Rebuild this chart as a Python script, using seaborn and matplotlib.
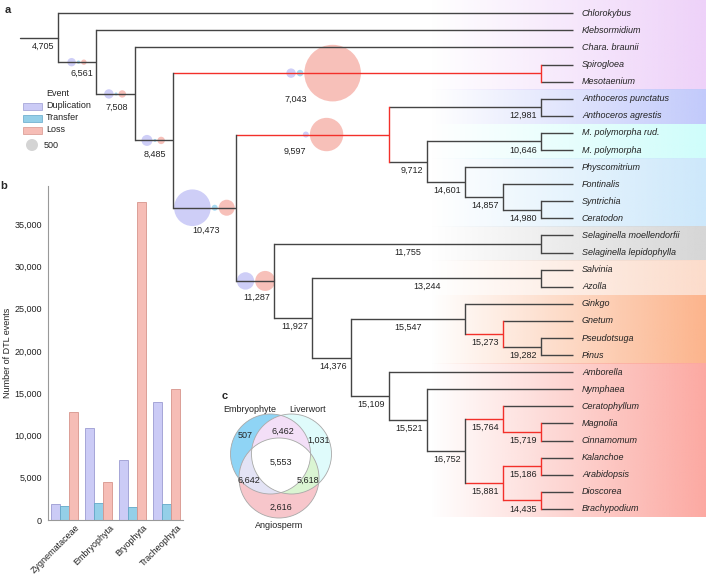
import numpy as np
import pandas as pd
import matplotlib
matplotlib.use("Agg")
import matplotlib.pyplot as plt
import matplotlib.transforms as mtransforms
from matplotlib.colors import to_rgb
from matplotlib.patches import Circle, Rectangle, Polygon
from matplotlib.ticker import FuncFormatter
import seaborn as sns

sns.set_theme(style="white")
plt.rcParams['font.family'] = ['Liberation Sans', 'DejaVu Sans']

# ------------------------------------------------------------------ data
# panel b
groups = ["Zygnemataceae", "Embryophyta", "Bryophyta", "Tracheophyta"]
events = ["Duplication", "Transfer", "Loss"]
duplication = [1900, 10900, 7100, 14000]
transfer = [1650, 2000, 1550, 1900]
loss = [12750, 4500, 37600, 15550]

# panel c
venn_sets = ["Embryophyte", "Liverwort", "Angiosperm"]
venn_regions = ["100", "110", "010", "111", "101", "011", "001"]
venn_values = ["507", "6,462", "1,031", "5,553", "6,642", "5,618", "2,616"]

# panel a : topology (node label = number of gene families)
taxa = ["Chlorokybus", "Klebsormidium", "Chara. braunii", "Spirogloea", "Mesotaenium",
        "Anthoceros punctatus", "Anthoceros agrestis", "M. polymorpha rud.", "M. polymorpha",
        "Physcomitrium", "Fontinalis", "Syntrichia", "Ceratodon",
        "Selaginella moellendorfii", "Selaginella lepidophylla", "Salvinia", "Azolla",
        "Ginkgo", "Gnetum", "Pseudotsuga", "Pinus", "Amborella", "Nymphaea",
        "Ceratophyllum", "Magnolia", "Cinnamomum", "Kalanchoe", "Arabidopsis",
        "Dioscorea", "Brachypodium"]

tree = ("4,705", ["Chlorokybus",
  ("6,561", ["Klebsormidium",
    ("7,508", ["Chara. braunii",
      ("8,485", [
        ("7,043", ["Spirogloea", "Mesotaenium"]),
        ("10,473", [
          ("9,597", [
            ("12,981", ["Anthoceros punctatus", "Anthoceros agrestis"]),
            ("9,712", [
              ("10,646", ["M. polymorpha rud.", "M. polymorpha"]),
              ("14,601", ["Physcomitrium",
                ("14,857", ["Fontinalis", ("14,980", ["Syntrichia", "Ceratodon"])])])])]),
          ("11,287", [
            ("11,755", ["Selaginella moellendorfii", "Selaginella lepidophylla"]),
            ("11,927", [
              ("13,244", ["Salvinia", "Azolla"]),
              ("14,376", [
                ("15,547", ["Ginkgo", ("15,273", ["Gnetum", ("19,282", ["Pseudotsuga", "Pinus"])])]),
                ("15,109", ["Amborella",
                  ("15,521", ["Nymphaea",
                    ("16,752", [
                      ("15,764", ["Ceratophyllum", ("15,719", ["Magnolia", "Cinnamomum"])]),
                      ("15,881", [("15,186", ["Kalanchoe", "Arabidopsis"]),
                                  ("14,435", ["Dioscorea", "Brachypodium"])])])])])])])])])])])])])

red_nodes = ["7,043", "9,597", "15,273", "15,764", "15,719", "15,881", "15,186", "14,435"]

bubble_nodes = ["6,561", "7,508", "8,485", "7,043", "9,597", "10,473", "11,287"]
bubble_dup = [245, 306, 420, 306, 125, 4650, 1050]
bubble_transfer = [40, 31, 31, 150, 0, 125, 0]
bubble_loss = [100, 190, 190, 11130, 3870, 890, 1390]

clade_first = ["Chlorokybus", "Anthoceros punctatus", "M. polymorpha rud.", "Physcomitrium",
               "Selaginella moellendorfii", "Salvinia", "Ginkgo", "Amborella"]
clade_last = ["Mesotaenium", "Anthoceros agrestis", "M. polymorpha", "Ceratodon",
              "Selaginella lepidophylla", "Azolla", "Pinus", "Brachypodium"]

# ------------------------------------------------------------------ styles / layout
clade_colors = ['#eed2f9', '#c2cafb', '#cffdfb', '#cde8fb', '#d6d6d6', '#fcdccb', '#fcb48c', '#fca9a2']
ev_colors = {"Duplication": "#cbcbf6", "Transfer": "#94cfe8", "Loss": "#f6bdb6"}
ev_edges = {"Duplication": "#9c9cd2", "Transfer": "#62a8c8", "Loss": "#d7958c"}
bub_colors = ["#c9c9f7", "#9ed6f1", "#f7b9b2"]
LINE = "#444444"
RED = "#f3302a"
FS = 6.5

W, H = 706, 575
ROW0, ROW = 13.3, 17.09
TIP_X, CHERRY_X, COL, STRETCH = 573, 541, 38.1, 25.5
LEG_R, LEG_N = 6.0, 500

fig = plt.figure(figsize=(W / 100, H / 100), dpi=100)
ax = fig.add_axes([0, 0, 1, 1])
ax.set_xlim(0, W)
ax.set_ylim(H, 0)
ax.axis('off')

# ---- layout of the tree
nodes = {}


def layout(n, parent=None):
    if isinstance(n, str):
        y = ROW0 + ROW * taxa.index(n)
        nodes[n] = dict(x=TIP_X, y=y, parent=parent, children=[], h=0, leaf=True)
        return
    label, ch = n
    for c in ch:
        layout(c, label)
    names = [c if isinstance(c, str) else c[0] for c in ch]
    h = 1 + max(nodes[c]['h'] for c in names)
    x = CHERRY_X - COL * (h - 1) - (STRETCH if h >= 10 else 0)
    y = np.mean([nodes[c]['y'] for c in names])
    nodes[label] = dict(x=x, y=y, parent=parent, children=names, h=h, leaf=False)


layout(tree)
root = tree[0]

# ---- background gradient bands
grad = np.linspace(0, 1, 256)
for first, last, col in zip(clade_first, clade_last, clade_colors):
    i0, i1 = taxa.index(first), taxa.index(last)
    y0 = 0 if i0 == 0 else ROW0 + ROW * (i0 - 0.5)
    y1 = ROW0 + ROW * (i1 + 0.5)
    rgba = np.zeros((1, 256, 4))
    rgba[..., :3] = to_rgb(col)
    rgba[..., 3] = grad
    ax.imshow(rgba, extent=[430, W, y1, y0], aspect='auto', zorder=0, interpolation='bilinear')

# ---- branches
for name, nd in nodes.items():
    col = RED if name in red_nodes else LINE
    if nd['parent'] is not None:
        px = nodes[nd['parent']]['x']
        ax.plot([px, nd['x']], [nd['y'], nd['y']], color=LINE if nd['leaf'] else col, lw=1.0, zorder=3,
                solid_capstyle='butt')
    else:
        ax.plot([nd['x'] - COL, nd['x']], [nd['y'], nd['y']], color=LINE, lw=1.0, zorder=3)
    if not nd['leaf']:
        ys = [nodes[c]['y'] for c in nd['children']]
        ax.plot([nd['x'], nd['x']], [min(ys), max(ys)], color=col, lw=1.0, zorder=3,
                solid_capstyle='projecting')

# ---- tip labels
for t in taxa:
    ax.text(TIP_X + 9, nodes[t]['y'], t, style='italic', fontsize=FS, va='center', ha='left',
            color='#222222', zorder=5)

# ---- bubbles
bubble_center_frac = {"6,561": 0.49, "7,508": 0.49, "8,485": 0.49, "7,043": 0.41,
                      "9,597": 0.57, "10,473": 0.5, "11,287": 0.52}
bubble_label = {"6,561": (0.61, 11), "7,508": (0.54, 13), "8,485": (0.53, 14),
                "7,043": (0.335, 26), "9,597": (0.385, 17), "10,473": (0.52, 23),
                "11,287": (0.55, 16)}
for name, d, t, l in zip(bubble_nodes, bubble_dup, bubble_transfer, bubble_loss):
    nd = nodes[name]
    px = nodes[nd['parent']]['x']
    center = px + bubble_center_frac[name] * (nd['x'] - px)
    items = [(LEG_R * np.sqrt(v / LEG_N), c) for v, c in zip([d, t, l], bub_colors) if v > 0]
    total = sum(2 * r for r, _ in items) + 1.0 * (len(items) - 1)
    xx = center - total / 2
    for r, c in items:
        ax.add_patch(Circle((xx + r, nd['y']), r, facecolor=c, edgecolor='none', alpha=0.9, zorder=2))
        xx += 2 * r + 1.0

# ---- node labels
centered = ["11,755", "13,244", "15,547"]
for name, nd in nodes.items():
    if nd['leaf']:
        continue
    if name == root:
        px = nd['x'] - COL
    else:
        px = nodes[nd['parent']]['x']
    if name in bubble_label:
        f, dy = bubble_label[name]
        ax.text(px + f * (nd['x'] - px), nd['y'] + dy, name, fontsize=FS, ha='center', va='center',
                color='#222222', zorder=5)
    elif name in centered:
        ax.text((px + nd['x']) / 2, nd['y'] + 8.5, name, fontsize=FS, ha='center', va='center',
                color='#222222', zorder=5)
    else:
        ax.text(nd['x'] - 4, nd['y'] + 8.5, name, fontsize=FS, ha='right', va='center',
                color='#222222', zorder=5)

# ---- legend of panel a
ax.text(46, 94, "Event", fontsize=FS, va='center', ha='left', color='#222222')
for i, ev in enumerate(events):
    yy = 106 + 12 * i
    ax.add_patch(Rectangle((23, yy - 3.5), 19, 7, facecolor=ev_colors[ev], edgecolor=ev_edges[ev], lw=0.5))
    ax.text(46, yy, ev, fontsize=FS, va='center', ha='left', color='#222222')
ax.add_patch(Circle((32, 145), LEG_R, facecolor='#d4d4d4', edgecolor='none'))
ax.text(44, 145, f"{LEG_N}", fontsize=FS, va='center', ha='left', color='#222222')

# ---- panel letters
ax.text(8, 10, "a", fontsize=8, fontweight='bold', va='center', ha='center')
ax.text(4, 186, "b", fontsize=8, fontweight='bold', va='center', ha='center')
ax.text(225, 396, "c", fontsize=8, fontweight='bold', va='center', ha='center')

# ------------------------------------------------------------------ panel c : Venn
VC = np.array([281.0, 462.0])
VR = 40.0
venn_centers = [VC + np.array([-10.5, -8.0]), VC + np.array([10.5, -8.0]), VC + np.array([-2.0, 16.0])]
single_colors = ['#8fd4f5', '#dffbfb', '#f7c6cb']
pair_colors = {(0, 1): '#f3dff7', (0, 2): '#e3e3f5', (1, 2): '#daf5d2'}


def circle_pts(c, n=720):
    a = np.linspace(0, 2 * np.pi, n, endpoint=False)
    return np.c_[c[0] + VR * np.cos(a), c[1] + VR * np.sin(a)]


def intersection(idx):
    pts = np.vstack([circle_pts(venn_centers[i]) for i in idx])
    keep = np.ones(len(pts), bool)
    for i in idx:
        keep &= np.hypot(*(pts - venn_centers[i]).T) <= VR + 1e-6
    p = pts[keep]
    cen = p.mean(axis=0)
    order = np.argsort(np.arctan2(p[:, 1] - cen[1], p[:, 0] - cen[0]))
    return p[order]


for c, col in zip(venn_centers, single_colors):
    ax.add_patch(Circle(c, VR, facecolor=col, edgecolor='none', zorder=2))
for idx, col in pair_colors.items():
    ax.add_patch(Polygon(intersection(idx), closed=True, facecolor=col, edgecolor='none', zorder=2.1))
ax.add_patch(Polygon(intersection((0, 1, 2)), closed=True, facecolor='white', edgecolor='none', zorder=2.2))
for c in venn_centers:
    ax.add_patch(Circle(c, VR, facecolor='none', edgecolor='#a8a8a8', lw=0.6, zorder=2.3))

region_offsets = {"100": (-36, -26), "110": (2, -31), "010": (38, -22), "111": (0, 0),
                  "101": (-32, 18), "011": (27, 18), "001": (0, 45)}
for reg, val in zip(venn_regions, venn_values):
    dx, dy = region_offsets[reg]
    ax.text(VC[0] + dx, VC[1] + dy, val, fontsize=FS, ha='center', va='center', color='#222222', zorder=5)
set_offsets = [(-31, -53), (27, -53), (-2, 64)]
for s, (dx, dy) in zip(venn_sets, set_offsets):
    ax.text(VC[0] + dx, VC[1] + dy, s, fontsize=FS, ha='center', va='center', color='#222222', zorder=5)

# ------------------------------------------------------------------ panel b : bars
axb = fig.add_axes([48 / W, (H - 520) / H, 135 / W, (520 - 186) / H])
axb.patch.set_alpha(0)
df = pd.DataFrame({"group": groups * 3,
                   "event": np.repeat(events, len(groups)),
                   "count": duplication + transfer + loss})
sns.barplot(data=df, x="group", y="count", hue="event", order=groups, hue_order=events,
            palette=ev_colors, saturation=1, width=0.8, linewidth=0.6, edgecolor='#999999',
            legend=False, ax=axb)
for bars, ev in zip(axb.containers, events):
    for b in bars:
        b.set_edgecolor(ev_edges[ev])
axb.set_ylim(0, 39500)
axb.set_xlim(-0.5, 3.5)
axb.set_yticks(range(0, 35001, 5000))
axb.yaxis.set_major_formatter(FuncFormatter(lambda v, p: f"{int(v):,}"))
axb.set_xlabel("")
axb.set_ylabel("Number of DTL events", fontsize=FS, color='#222222', labelpad=1.5)
axb.tick_params(axis='both', length=0, labelsize=FS, colors='#222222')
axb.tick_params(axis='y', pad=4.5)
axb.tick_params(axis='x', pad=3)
for s in ['top', 'right']:
    axb.spines[s].set_visible(False)
for s in ['left', 'bottom']:
    axb.spines[s].set_color('#999999')
    axb.spines[s].set_linewidth(0.8)
offset = mtransforms.ScaledTranslation(17 / 100, 1 / 100, fig.dpi_scale_trans)
for lab in axb.get_xticklabels():
    lab.set_rotation(45)
    lab.set_ha('right')
    lab.set_va('top')
    lab.set_transform(lab.get_transform() + offset)

fig.savefig("out.png", dpi=100)
